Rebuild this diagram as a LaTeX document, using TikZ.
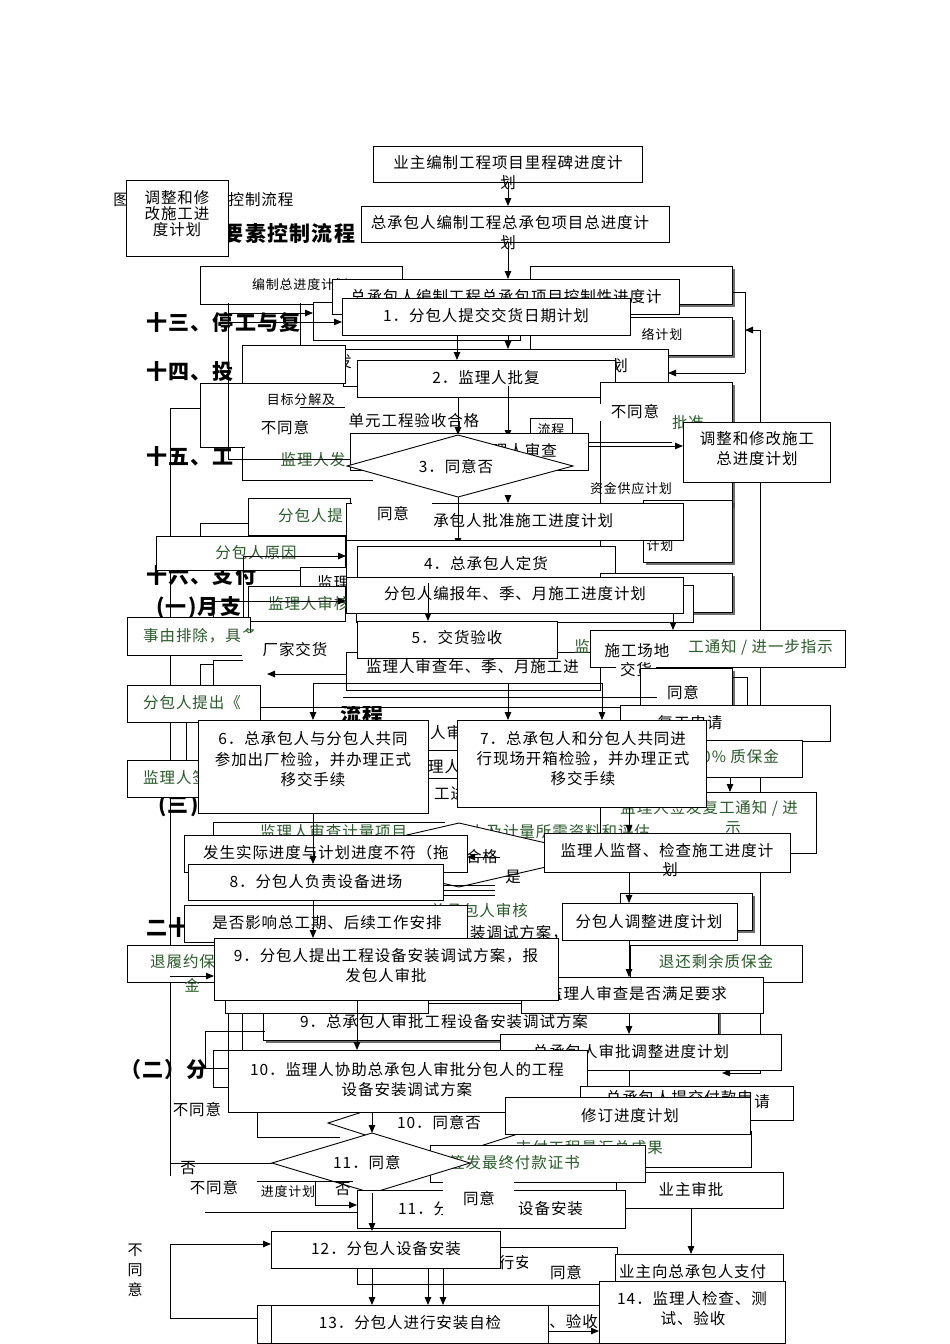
\documentclass[tikz,border=0pt]{standalone}
\usepackage{fontspec}
\setmainfont[LetterSpace=6]{Noto Sans CJK SC}
\usetikzlibrary{arrows.meta,shadows}
\definecolor{grn}{RGB}{40,92,40}
\newcommand\bx[6][box]{\node[#1,minimum width={(#5-#3)*1pt},minimum height={(#6-#4)*1pt}] (#2) at ({(#3+#5)/2},{(#4+#6)/2}) {};}
\begin{document}
\begin{tikzpicture}[x=1pt,y=-1pt,
  box/.style={draw,fill=white,line width=1pt,inner sep=0pt,outer sep=0pt},
  sbox/.style={box,drop shadow={shadow xshift=3pt,shadow yshift=-3pt,fill=black!70,opacity=0.8}},
  patch/.style={fill=white,draw=none,inner sep=0pt,outer sep=0pt},
  txt/.style={inner sep=0pt,font=\fontsize{15.5}{19}\selectfont},
  stx/.style={inner sep=0pt,font=\fontsize{13}{16}\selectfont},
  gtx/.style={txt,text=grn},
  hd/.style={inner sep=0pt,font=\fontsize{21}{24}\selectfont\bfseries},
  ln/.style={line width=0.9pt},
  ar/.style={ln,-{Triangle[length=8pt,width=6.5pt]}},
]
\useasboundingbox (0,0) rectangle (950,1344);
\fill[white] (0,0) rectangle (950,1344);

% ---------- headings (background)
\node[txt] (h0a) at (121,200) {图};
\node[txt] (h0b) at (261,200) {控制流程};
\node[hd] (h1) at (289,233) {要素控制流程};
\node[hd,anchor=west] (h2) at (146,322) {十三、停工与复};
\node[hd,anchor=west] (h3) at (146,372) {十四、投};
\node[hd,anchor=west] (h4) at (146,457) {十五、工};
\node[hd,anchor=west] (h5) at (146,576) {十六、支付};
\node[hd,anchor=west] (h6) at (156,608) {(一)月支};
\node[hd,anchor=west] (h7) at (158,806) {(三)};
\node[hd,anchor=west] (h8) at (146,928) {二十};
\node[hd,anchor=west] (h9) at (120,1070) {（二）分};

% ---------- top chain
\bx{b1}{373}{146}{642}{182}
\node[txt] (t1) at (508,163) {业主编制工程项目里程碑进度计};
\bx{b2}{361}{206}{669}{242}
\node[txt] (t2) at (510,223) {总承包人编制工程总承包项目总进度计};
\draw[ar] (b1.south -| 508,0) -- (b2.north -| 508,0);
\node[txt] (t1b) at (508,183) {划};
\node[txt] (t2b) at (508,243) {划};
\bx{b3}{126}{180}{228}{256}
\node[txt,align=center,font=\fontsize{15.5}{16}\selectfont] (t3) at (177,214) {调整和修\\改施工进\\度计划};

\bx{ba}{200}{266}{402}{304}
\node[stx] (ta) at (300,285) {编制总进度计划};
\bx[sbox]{bb}{530}{266}{732}{304}
\bx[sbox]{bc}{530}{317}{732}{355}
\node[stx] (tc) at (662,334) {络计划};
\coordinate (r1) at (732,292);
\coordinate (r2) at (745,373);
\draw[ln] (r1) -- (745,292) -- (r2);
\draw[<->,ln,>={Triangle[length=8pt,width=6.5pt]}] (745,330) -- (760,330) -- (760,1073) -- (722,1073);

\bx{bk1}{313}{302}{520}{340}
\bx{b6}{332}{279}{679}{314}
\node[txt] (t6) at (506,297) {总承包人编制工程总承包项目控制性进度计};
\draw[ar] (b2.south -| 508,0) -- (508,279);
\bx{b10}{342}{298}{630}{335}
\node[txt] (t10) at (486,316) {1．分包人提交交货日期计划};
\coordinate (l1) at (228,303);
\coordinate (l2) at (300,303);
\draw[ln] (l1) -- (228,459) -- (350,459);
\draw[ln] (l2) -- (300,345);
\draw[ar] (228,313) -- (bk1.west |- 0,313);
\draw[ar] (228,322) -- (b10.west |- 0,322);

% ---------- monitor chain 2
\bx{bd}{343}{349}{668}{386}
\node[txt] (td1) at (344,362) {发};
\node[txt] (td2) at (620,366) {划};
\draw[ar] (r2) -- (bd.east |- r2);
\bx{be}{242}{345}{345}{383}
\draw[ln] (245,383) -- (200,383) -- (200,447) -- (245,447);
\draw[ln] (200,408) -- (170,408) -- (170,1188);
\draw[ar] (b10.south -| 457,0) -- (457,360);
\draw[ar] (b10.south -| 508,0) -- (508,349);
\bx{b20}{357}{360}{615}{397}
\node[txt] (t20) at (486,378) {2．监理人批复};
\node[stx] (tg) at (301,400) {目标分解及};
\draw[ln] (300,407) -- (345,407);
\bx[patch]{p1}{240}{412}{340}{445}
\node[txt] (tn1) at (285,428) {不同意};
\node[txt] (tu) at (414,421) {单元工程验收合格};
\bx{bl}{530}{418}{572}{440}
\node[stx] (tl) at (551,430) {流程};
\draw[ar] (b20.south -| 458,0) -- (458,435);
\draw[ar] (508,386) -- (508,438);

\bx[sbox]{bf}{600}{382}{732}{505}
\bx[patch]{p2}{600}{404}{670}{421}
\node[txt] (tn2) at (635,412) {不同意};
\node[gtx] (tpz) at (688,423) {批准};
\bx{b15}{683}{422}{830}{482}
\node[txt] (t15a) at (757,439) {调整和修改施工};
\node[txt] (t15b) at (757,459) {总进度计划};
\node[stx] (tz) at (631,489) {资金供应计划};

\bx{bh}{350}{433}{588}{470}
\node[txt,anchor=east] (th) at (557,451) {监理人审查};
\draw[ln] (bh.east |- 0,442) -- (672,442);
\draw[ar] (bh.east |- 0,446) -- (b15.west |- 0,446);
\draw[ln,fill=white] (347,466) -- (458,435) -- (573,466) -- (458,497) -- cycle;
\node[txt] (t30) at (456,467) {3．同意否};

% green left group
\draw[ln] (242,447) -- (242,480) -- (373,480);
\node[gtx] (tj) at (313,460) {监理人发};
\draw[ln] (228,459) -- (350,459);
\bx{bm}{248}{498}{350}{535}
\node[gtx,anchor=west] (tm) at (278,516) {分包人提};
\draw[ln] (248,523) -- (200,523) -- (200,536);
\bx[sbox]{bn}{643}{500}{732}{562}
\node[stx] (tjh) at (660,546) {计划};
\bx{b21}{346}{503}{683}{540}
\node[txt] (t21) at (515,521) {总承包人批准施工进度计划};
\bx[patch]{p3}{352}{496}{432}{536}
\node[txt] (ty1) at (393,514) {同意};
\draw[ar] (458,497) -- (458,546);
\draw[ar] (508,497) -- (b21.north -| 508,0);

\bx{bo}{156}{536}{345}{570}
\node[gtx] (to) at (256,553) {分包人原因};
\bx{bp}{300}{567}{346}{600}
\node[txt,anchor=west] (tp) at (317,582) {监理};
\bx{bq}{248}{586}{345}{621}
\node[gtx,anchor=west] (tq) at (268,604) {监理人审核};
\bx{br}{346}{540}{600}{577}
\coordinate (lo) at (243,720);
\draw[ln] (lo) -- (243,556);
\draw[ar] (243,556) -- (br.west |- 0,556);
\draw[ln] (213,633) -- (213,601);
\draw[ar] (213,601) -- (br.west |- 0,601);
\bx{b40}{357}{546}{615}{583}
\node[txt] (t40) at (486,564) {4．总承包人定货};

\bx{bs}{127}{617}{250}{655}
\node[gtx,anchor=west] (ts) at (143,636) {事由排除，具备};

\bx[sbox]{bt}{600}{573}{732}{612}
\bx{bu}{356}{585}{693}{622}
\bx{b25}{346}{577}{683}{613}
\node[txt] (t25) at (515,594) {分包人编报年、季、月施工进度计划};
\draw[ar] (428,583) -- (428,621);
\draw[ar] (673,613) -- (673,630);

\bx{b31}{346}{652}{600}{690}
\node[txt,anchor=west] (t31) at (366,667) {监理人审查年、季、月施工进};
\bx{b50}{357}{621}{557}{658}
\node[txt] (t50) at (457,638) {5．交货验收};
\node[gtx] (tjj) at (582,646) {监};

\bx[patch]{p4}{242}{633}{343}{700}
\node[txt] (tcj) at (295,650) {厂家交货};
\draw[ar] (b31.west |- 0,674) -- (267,674);
\draw[ln] (243,660) -- (213,660) -- (213,700);
\draw[ln] (213,664) -- (200,664) -- (200,685);

\bx{bw}{590}{630}{845}{667}
\node[gtx,anchor=east] (tw) at (833,647) {工通知 / 进一步指示};
\bx[patch]{p5}{598}{632}{680}{662}
\bx[patch]{p6}{616}{662}{656}{680}
\node[txt] (tsg1) at (637,651) {施工场地};
\node[txt] (tsg2) at (636,670) {交货};

\bx[sbox]{bx1}{640}{668}{732}{712}
\draw[ln] (732,677) -- (747,677) -- (747,720);
\bx[patch]{p7}{660}{680}{725}{707}
\node[txt] (ty2) at (683,693) {同意};

\node[hd] (h10) at (362,714) {流程};
\bx[patch]{p11}{335}{699}{395}{706}
\draw[ln] (313,683) -- (602,683);
\draw[ln] (343,697) -- (657,697);
\draw[ln] (250,707) -- (657,707);

\bx{by}{127}{685}{260}{722}
\node[gtx,anchor=west] (tyy) at (143,703) {分包人提出《};
\draw[ln] (186,722) -- (186,760);
\draw[ln] (200,722) -- (200,760);
\bx{bz}{127}{760}{250}{797}
\node[gtx,anchor=west] (tzz) at (143,778) {监理人签};

\bx{bsq}{620}{705}{830}{741}
\node[txt] (tsq) at (690,723) {复工申请};
\bx{bzb}{640}{740}{802}{777}
\node[gtx,anchor=east] (tzb) at (779,757) {10\% 质保金};
\draw[ar] (730,777) -- (730,792);
\bx{bfg}{600}{792}{816}{853}
\node[gtx,anchor=east] (tfg) at (798,808) {监理人签发复工通知 / 进};
\node[gtx] (tfg2) at (733,828) {示};

% between 6 and 7
\node[txt,anchor=west] (tm1) at (430,733) {人审};
\node[txt,anchor=west] (tm2) at (428,767) {理人};
\node[txt,anchor=west] (tm3) at (434,794) {工进};
\draw[ln] (428,750) -- (457,750);
\draw[ln] (428,778) -- (457,778);

\draw[ar] (313,683) -- (313,720);
\draw[ar] (508,683) -- (508,720);
\draw[ar] (602,683) -- (602,720);
\bx{b60}{198}{720}{428}{813}
\node[txt] (t60a) at (313,739) {6．总承包人与分包人共同};
\node[txt] (t60b) at (313,760) {参加出厂检验，并办理正式};
\node[txt] (t60c) at (313,780) {移交手续};
\bx{b70}{457}{720}{706}{807}
\node[txt] (t70a) at (583,739) {7．总承包人和分包人共同进};
\node[txt] (t70b) at (583,759) {行现场开箱检验，并办理正式};
\node[txt] (t70c) at (583,779) {移交手续};

% diamond behind 8
\draw[ln] (213,837) -- (213,822) -- (445,822);
\node[gtx,anchor=west] (tjl) at (260,832) {监理人审查计量项目};
\node[gtx,anchor=west] (tjl2) at (470,832) {上及计量所需资料和评估};
\draw[ln,fill=white] (320,855) -- (459,823) -- (598,855) -- (459,887) -- cycle;
\node[txt] (thg) at (482,857) {合格};
\node[txt] (tsh) at (513,877) {是};

\bx{b42}{184}{835}{467}{872}
\node[txt] (t42) at (326,853) {发生实际进度与计划进度不符（拖};
\draw[ar] (500,857) -- (b42.east |- 0,857);
\draw[ar] (b60.south -| 313,0) -- (313,864);
\bx{b80}{188}{864}{443}{900}
\node[txt] (t80) at (316,882) {8．分包人负责设备进场};
\draw[ln] (443,885) -- (495,885);
\draw[ln] (443,890) -- (495,890);
\draw[ln] (443,895) -- (495,895);

\draw[ar] (629,807) -- (629,833);
\bx{b44}{544}{833}{790}{872}
\node[txt] (t44) at (667,851) {监理人监督、检查施工进度计};
\node[txt] (t44b) at (670,870) {划};

\bx[sbox]{bsb}{620}{893}{752}{930}
\draw[ar] (b44.south -| 629,0) -- (629,903);
\bx{b47}{562}{903}{737}{940}
\node[txt] (t47) at (649,922) {分包人调整进度计划};

\node[gtx,anchor=east] (tsh2) at (528,911) {总承包人审核};
\node[txt,anchor=east] (taz) at (568,933) {安装调试方案，};
\bx{b46}{184}{905}{467}{942}
\node[txt] (t46) at (327,923) {是否影响总工期、后续工作安排};
\draw[ar] (b80.south -| 313,0) -- (313,938);

\bx{bty}{127}{945}{250}{982}
\node[gtx,anchor=west] (tty) at (150,962) {退履约保};
\node[gtx] (tty2) at (192,985) {金};
\draw[ar] (170,976) -- (214,976);
\bx{b52}{630}{945}{802}{982}
\node[gtx] (t52) at (716,962) {退还剩余质保金};
\draw[ar] (b47.south -| 629,0) -- (629,977);

\bx[sbox]{bsp}{263}{1003}{718}{1040}
\node[txt] (tsp) at (444,1022) {9．总承包人审批工程设备安装调试方案};
\bx{bpp}{225}{1000}{428}{1013}
\draw[ln] (228,1013) -- (228,1050);
\draw[ln] (242,1013) -- (242,1050);
\bx{b53}{521}{977}{763}{1013}
\node[txt] (t53) at (637,994) {监理人审查是否满足要求};
\bx{b90}{214}{938}{558}{1000}
\node[txt] (t90a) at (386,956) {9．分包人提出工程设备安装调试方案，报};
\node[txt] (t90b) at (386,976) {发包人审批};
\draw[ar] (b53.south -| 629,0) -- (629,1034);
\bx{b55}{500}{1034}{781}{1070}
\node[txt] (t55) at (631,1052) {总承包人审批调整进度计划};

\draw[ln] (265,1031) -- (205,1031) -- (205,1068) -- (228,1068);
\draw[ln] (228,1050) -- (213,1050) -- (213,1087) -- (228,1087);

\bx{bcg}{430}{1131}{751}{1167}
\node[gtx,anchor=east] (tcg) at (663,1148) {支付工程量汇总成果};
\draw[ln] (257,1112) -- (257,1137) -- (340,1137);
\draw[ln,fill=white] (328,1123) -- (440,1087) -- (552,1123) -- (440,1159) -- cycle;
\node[txt] (t100) at (439,1123) {10．同意否};
\draw[ar] (b90.south -| 357,0) -- (357,1050);
\bx{b56}{228}{1050}{587}{1112}
\node[txt] (t56a) at (407,1070) {10．监理人协助总承包人审批分包人的工程};
\node[txt] (t56b) at (407,1090) {设备安装调试方案};
\node[txt] (tn3) at (197,1110) {不同意};
\draw[ar] (b55.south -| 629,0) -- (629,1097);
\bx{bfk}{580}{1086}{793}{1120}
\begin{scope}
\clip (600,1085) rectangle (753,1097);
\node[txt,anchor=east] (tfk) at (753,1098) {总承包人提交付款申};
\end{scope}
\node[txt] (tfk2) at (762,1102) {请};
\bx{b60x}{505}{1097}{750}{1134}
\node[txt] (t60x) at (630,1116) {修订进度计划};

\bx{byz}{616}{1172}{783}{1208}
\node[txt] (tyz) at (691,1190) {业主审批};
\bx{b63}{430}{1145}{645}{1182}
\node[gtx,anchor=east] (t63) at (580,1163) {监理人签发最终付款证书};
\draw[ar] (b56.south -| 372,0) -- (372,1133);
\draw[ln] (170,1163) -- (272,1163);
\draw[ln,fill=white] (272,1163) -- (372,1133) -- (470,1163) -- (372,1193) -- cycle;
\node[txt,anchor=west] (t110) at (333,1163) {11．同意};
\node[txt,anchor=west] (t110b) at (335,1189) {否};
\node[txt] (tf) at (188,1168) {否};
\bx[patch]{p8}{168}{1176}{252}{1200}
\node[txt] (tn4) at (214,1188) {不同意};

\draw[ln] (257,1181) -- (353,1181);
\node[stx] (tjd) at (288,1192) {进度计划};
\draw[ln] (205,1212) -- (357,1212);
\draw[ln] (315,1182) -- (315,1205);
\bx{b69}{357}{1190}{625}{1228}
\draw[ar] (315,1205) -- (b69.west |- 0,1205);
\node[txt,anchor=west] (t69) at (398,1209) {11．分};
\node[txt,anchor=west] (t69b) at (518,1209) {设备安装};
\bx[patch]{p9}{443}{1180}{514}{1222}
\node[txt] (ty3) at (479,1199) {同意};
\draw[ar] (372,1193) -- (372,1231);
\draw[ar] (byz.south -| 691,0) -- (691,1254);

\bx{bkk}{357}{1247}{617}{1284}
\node[txt,anchor=west] (tkk) at (433,1263) {分包人进行安};
\bx{b120}{271}{1231}{500}{1268}
\node[txt] (t120) at (386,1249) {12．分包人设备安装};
\bx{bzf}{615}{1254}{783}{1290}
\node[txt,anchor=west] (tzf) at (619,1272) {业主向总承包人支付};
\bx[patch]{p10}{528}{1256}{602}{1282}
\node[txt] (ty4) at (566,1273) {同意};

\bx{bys}{480}{1305}{600}{1343}
\node[txt,anchor=east] (tys) at (598,1322) {测试、验收};
\bx{b140}{599}{1281}{785}{1343}
\node[txt] (t140a) at (692,1299) {14．监理人检查、测};
\node[txt] (t140b) at (693,1319) {试、验收};
\bx{b130o}{257}{1305}{548}{1343}
\bx{b130}{271}{1305}{548}{1343}
\node[txt] (t130) at (410,1323) {13．分包人进行安装自检};
\draw[ar] (b120.south -| 372,0) -- (372,1305);
\draw[ar] (428,1268) -- (428,1305);
\draw[ar] (443,1268) -- (443,1305);
\draw[ar] (b130.east |- 0,1331) -- (b140.west |- 0,1331);
\draw[ln] (b130o.west |- 0,1318) -- (170,1318) -- (170,1244);
\draw[ar] (170,1244) -- (b120.west |- 0,1244);
\node[txt,align=center,font=\fontsize{15}{20}\selectfont] (tn5) at (135,1270) {不\\同\\意};
\end{tikzpicture}
\end{document}
